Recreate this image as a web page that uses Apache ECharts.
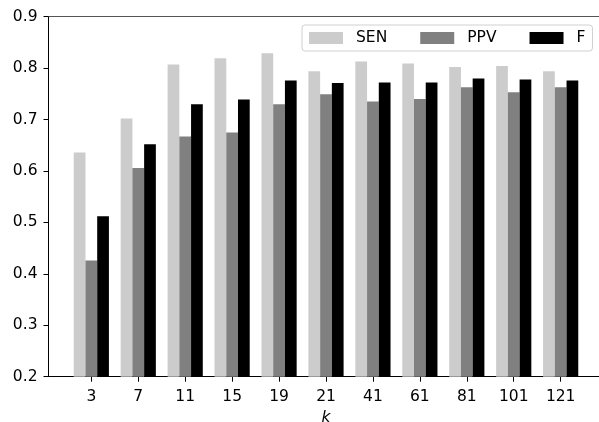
<!DOCTYPE html>
<html>
<head>
<meta charset="utf-8">
<script src="https://cdn.jsdelivr.net/npm/echarts@6/dist/echarts.min.js"></script>
<style>
html,body{margin:0;padding:0;background:#fff;}
#chart{width:599px;height:422px;}
</style>
</head>
<body>
<div id="chart"></div>
<script>
const kLabels = ['3','7','11','15','19','21','41','61','81','101','121'];
const SEN = [0.636,0.702,0.807,0.819,0.829,0.794,0.813,0.809,0.802,0.804,0.794];
const PPV = [0.426,0.606,0.667,0.675,0.730,0.749,0.735,0.740,0.763,0.753,0.763];
const F   = [0.512,0.652,0.730,0.739,0.776,0.771,0.772,0.772,0.780,0.778,0.776];
const yTicks = [0.2,0.3,0.4,0.5,0.6,0.7,0.8,0.9];

const idx = kLabels.map((_, i) => i);
const toPairs = arr => arr.map((v, i) => [i, v]);
const font = 'DejaVu Sans';
const fs = 15.5;

const chart = echarts.init(document.getElementById('chart'), null, {renderer: 'canvas'});
chart.setOption({
  animation: false,
  backgroundColor: '#ffffff',
  grid: {
    left: 48.5, top: 16.7, width: 555, height: 360,
    outerBoundsMode: 'none', containLabel: false,
    show: false
  },
  legend: {
    left: 302, top: 25,
    padding: [5, 7, 5, 7],
    itemWidth: 34, itemHeight: 12, itemGap: 33,
    icon: 'rect',
    borderColor: '#d0d0d0', borderWidth: 1, borderRadius: 3,
    backgroundColor: 'rgba(255,255,255,0.8)',
    textStyle: {fontFamily: font, fontSize: fs, color: '#000', padding: [0, 0, 0, 8]},
    data: ['SEN', 'PPV', 'F']
  },
  xAxis: [{
    type: 'value',
    min: -0.9125, max: 10.9125,
    name: 'k', nameLocation: 'middle', nameGap: 31,
    nameTextStyle: {fontFamily: font, fontSize: fs, fontStyle: 'italic', color: '#000'},
    axisLine: {show: true, onZero: false, lineStyle: {color: '#000', width: 1}},
    axisTick: {show: true, length: 5, customValues: idx, lineStyle: {color: '#000'}},
    axisLabel: {
      customValues: idx, margin: 12,
      fontFamily: font, fontSize: fs, color: '#000',
      formatter: v => kLabels[Math.round(v)]
    },
    splitLine: {show: false}
  }, {
    type: 'value', position: 'top',
    min: -0.9125, max: 10.9125,
    axisLine: {show: true, onZero: false, lineStyle: {color: '#555', width: 1}},
    axisTick: {show: false}, axisLabel: {show: false}, splitLine: {show: false}
  }],
  yAxis: {
    type: 'value',
    min: 0.2, max: 0.9, interval: 0.1,
    axisLine: {show: true, onZero: false, lineStyle: {color: '#000', width: 1}},
    axisTick: {show: true, length: 5, lineStyle: {color: '#000'}},
    axisLabel: {
      margin: 11, fontFamily: font, fontSize: fs, color: '#000',
      formatter: v => v.toFixed(1)
    },
    splitLine: {show: false}
  },
  series: [
    {name: 'SEN', type: 'bar', data: toPairs(SEN), barWidth: 11.73, barGap: '0%', itemStyle: {color: '#cccccc'}},
    {name: 'PPV', type: 'bar', data: toPairs(PPV), barWidth: 11.73, barGap: '0%', itemStyle: {color: '#808080'}},
    {name: 'F',   type: 'bar', data: toPairs(F),   barWidth: 11.73, barGap: '0%', itemStyle: {color: '#000000'}}
  ]
});
</script>
</body>
</html>
